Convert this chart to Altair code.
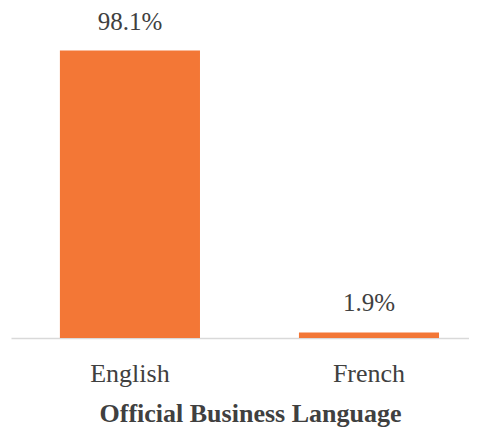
import altair as alt
import pandas as pd

languages = ["English", "French"]
shares = [98.1, 1.9]
labels = ["98.1%", "1.9%"]

df = pd.DataFrame({"language": languages, "share": shares, "label": labels})

FONT = "Liberation Serif"
TXT = "#404040"

base = alt.Chart(df).encode(
    x=alt.X(
        "language:N",
        sort=languages,
        title="Official Business Language",
        scale=alt.Scale(paddingInner=0.414, paddingOuter=0.165, align=0.62),
        axis=alt.Axis(
            labelAngle=0,
            ticks=False,
            tickSize=0,
            labelPadding=43,
            labelBaseline="alphabetic",
            labelFontSize=26,
            labelFont=FONT,
            labelColor=TXT,
            domainColor="#d9d9d9",
            domainWidth=1.5,
            titleFontSize=26,
            titleFont=FONT,
            titleFontWeight="bold",
            titleColor=TXT,
            titleY=83,
            titleX=239,
            titleBaseline="alphabetic",
        ),
    ),
    y=alt.Y("share:Q", scale=alt.Scale(domain=[0, 100]), axis=None),
)

bars = base.mark_bar(color="#F37736")
text = base.mark_text(
    dy=-21, baseline="alphabetic", fontSize=25, font=FONT, color=TXT
).encode(text="label:N")

chart = (
    (bars + text)
    .properties(
        width=458,
        height=293,
        padding={"left": 3, "top": 37, "right": 0, "bottom": 89},
        autosize=alt.AutoSizeParams(type="none"),
    )
    .configure_view(stroke=None)
)

chart.save("out.html", embed_options={"renderer": "svg", "actions": False})
